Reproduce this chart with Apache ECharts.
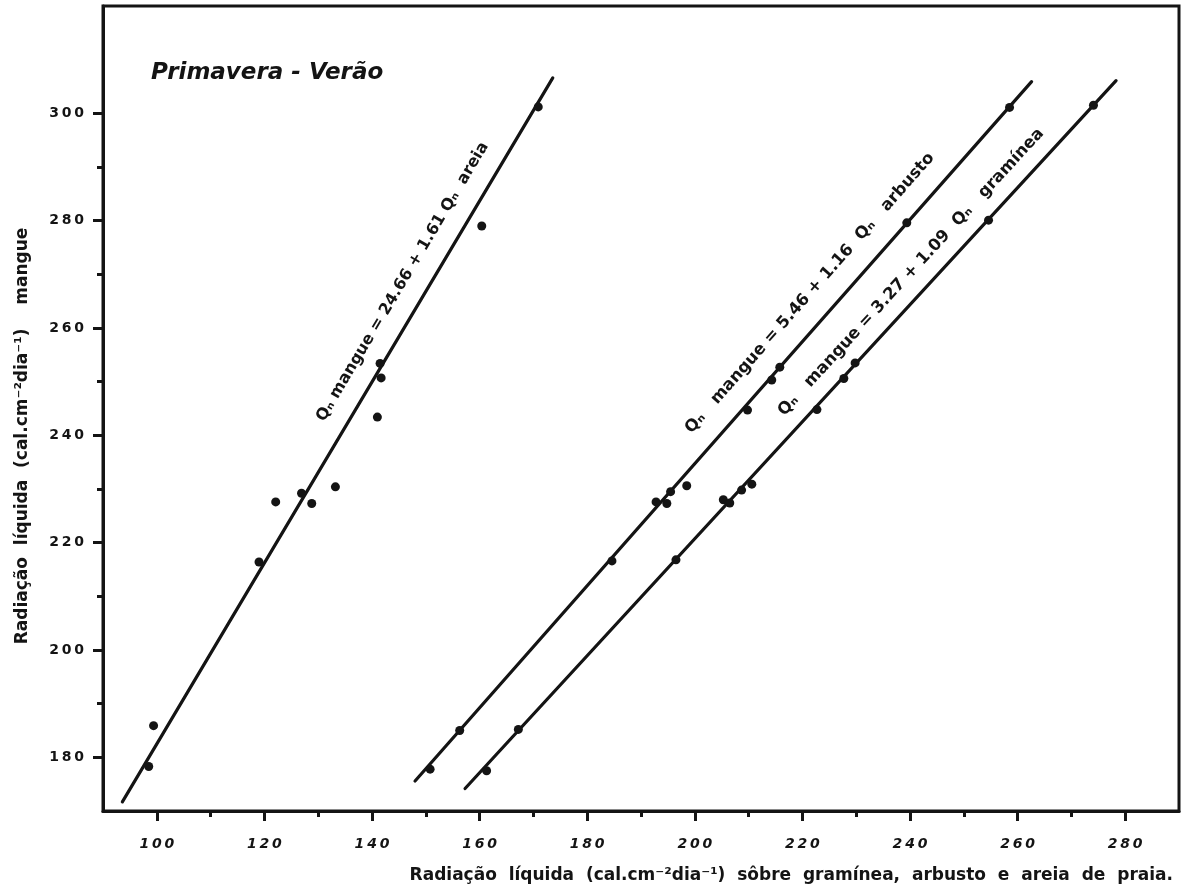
<!DOCTYPE html>
<html>
<head>
<meta charset="utf-8">
<script src="https://cdn.jsdelivr.net/npm/echarts@6/dist/echarts.min.js"></script>
<style>
  html, body { margin: 0; padding: 0; background: #fff; }
  #chart { width: 1194px; height: 892px; }
</style>
</head>
<body>
<div id="chart"></div>
<script>
// ---- Data ----
const xTickLabels = [100, 120, 140, 160, 180, 200, 220, 240, 260, 280];
const xMinorTicks = [110, 130, 150, 170, 190, 210, 230, 250, 270];
const yTickLabels = [180, 200, 220, 240, 260, 280, 300];
const yMinorTicks = [190, 210, 230, 250, 270, 290];

// Qn areia vs Qn mangue
const areiaX  = [98.5, 99.4, 119.0, 122.1, 126.9, 128.8, 133.2, 141.0, 141.7, 141.5, 160.4, 170.9];
const areiaY  = [178.3, 185.9, 216.4, 227.6, 229.2, 227.3, 230.4, 243.4, 250.7, 253.4, 279.0, 301.2];
// Qn arbusto vs Qn mangue
const arbustoX = [150.8, 156.3, 184.6, 192.8, 194.8, 195.5, 198.5, 209.8, 214.3, 215.8, 239.4, 258.5];
const arbustoY = [177.8, 185.0, 216.6, 227.6, 227.3, 229.5, 230.6, 244.7, 250.3, 252.7, 279.6, 301.1];
// Qn gramínea vs Qn mangue
const gramineaX = [161.3, 167.2, 196.5, 205.3, 206.5, 208.7, 210.6, 222.7, 227.7, 229.8, 254.6, 274.1];
const gramineaY = [177.5, 185.2, 216.8, 228.0, 227.4, 229.8, 230.9, 244.8, 250.6, 253.5, 280.1, 301.5];

// Fitted lines (end points as drawn)
const lineAreiaX = [93.6, 173.6];
const lineAreiaY = [171.7, 306.6];
const lineArbustoX = [148.0, 262.6];
const lineArbustoY = [175.6, 305.9];
const lineGramineaX = [157.3, 278.3];
const lineGramineaY = [174.2, 306.1];

const eqAreia = 'Qₙ mangue = 24.66 + 1.61 Qₙ  areia';
const eqArbusto = 'Qₙ   mangue = 5.46 + 1.16  Qₙ   arbusto';
const eqGraminea = 'Qₙ   mangue = 3.27 + 1.09  Qₙ   gramínea';
const titleText = 'Primavera - Verão';
const xTitle = 'Radiação  líquida  (cal.cm⁻²dia⁻¹)  sôbre  gramínea,  arbusto  e  areia  de  praia.';
const yTitle = 'Radiação  líquida  (cal.cm⁻²dia⁻¹)    mangue';

// ---- Chart ----
const INK = '#141414';
const FONT = '"DejaVu Sans", "Liberation Sans", sans-serif';
const zip = (xs, ys) => xs.map((x, i) => [x, ys[i]]);
const spaced = v => String(v).split('').join('\u2009');

const chart = echarts.init(document.getElementById('chart'), null, { renderer: 'canvas' });

const baseAxis = {
  type: 'value',
  splitLine: { show: false },
  axisLine: { show: false },
  axisTick: { show: false },
  axisLabel: { show: false }
};

const option = {
  animation: false,
  backgroundColor: '#fff',
  grid: {
    left: 103, right: 15, top: 6, bottom: 81,
    show: true, borderColor: INK, borderWidth: 3, backgroundColor: 'transparent'
  },
  xAxis: [
    Object.assign({}, baseAxis, {
      min: 90, max: 290, position: 'bottom',
      axisLine: { show: true, onZero: false, lineStyle: { color: INK, width: 3 } },
      axisTick: { show: true, inside: false, length: 10, customValues: xTickLabels, lineStyle: { color: INK, width: 3 } },
      axisLabel: {
        show: true, customValues: xTickLabels, margin: 26,
        formatter: spaced, color: INK,
        fontFamily: FONT, fontWeight: 'bold', fontStyle: 'italic', fontSize: 14
      }
    }),
    Object.assign({}, baseAxis, {
      min: 90, max: 290, position: 'bottom', offset: 0,
      axisTick: { show: true, inside: false, length: 6, customValues: xMinorTicks, lineStyle: { color: INK, width: 3 } }
    })
  ],
  yAxis: [
    Object.assign({}, baseAxis, {
      min: 170, max: 320, position: 'left',
      axisLine: { show: true, onZero: false, lineStyle: { color: INK, width: 3 } },
      axisTick: { show: true, inside: false, length: 10, customValues: yTickLabels, lineStyle: { color: INK, width: 3 } },
      axisLabel: {
        show: true, customValues: yTickLabels, margin: 19,
        formatter: spaced, color: INK,
        fontFamily: FONT, fontWeight: 'bold', fontSize: 14
      }
    }),
    Object.assign({}, baseAxis, {
      min: 170, max: 320, position: 'left', offset: 0,
      axisTick: { show: true, inside: false, length: 6, customValues: yMinorTicks, lineStyle: { color: INK, width: 3 } }
    })
  ],
  series: [
    { type: 'line', name: 'fit areia', data: zip(lineAreiaX, lineAreiaY), showSymbol: false, lineStyle: { color: INK, width: 3.2, cap: 'round' }, z: 2 },
    { type: 'line', name: 'fit arbusto', data: zip(lineArbustoX, lineArbustoY), showSymbol: false, lineStyle: { color: INK, width: 3.2, cap: 'round' }, z: 2 },
    { type: 'line', name: 'fit graminea', data: zip(lineGramineaX, lineGramineaY), showSymbol: false, lineStyle: { color: INK, width: 3.2, cap: 'round' }, z: 2 },
    { type: 'scatter', name: 'areia', data: zip(areiaX, areiaY), symbol: 'circle', symbolSize: 9, itemStyle: { color: INK, opacity: 1 }, z: 3 },
    { type: 'scatter', name: 'arbusto', data: zip(arbustoX, arbustoY), symbol: 'circle', symbolSize: 9, itemStyle: { color: INK, opacity: 1 }, z: 3 },
    { type: 'scatter', name: 'graminea', data: zip(gramineaX, gramineaY), symbol: 'circle', symbolSize: 9, itemStyle: { color: INK, opacity: 1 }, z: 3 }
  ]
};
chart.setOption(option);

// ---- Annotations placed through the chart's own scales ----
function px(p) { return chart.convertToPixel({ gridIndex: 0 }, p); }
function angleOf(xs, ys) {
  const a = px([xs[0], ys[0]]), b = px([xs[1], ys[1]]);
  return Math.atan2(a[1] - b[1], b[0] - a[0]);
}
function eqLabel(text, anchor, xs, ys, size) {
  const p = px(anchor);
  return {
    type: 'text', x: p[0], y: p[1], rotation: angleOf(xs, ys),
    style: { text: text, fill: INK, font: 'bold ' + size + 'px ' + FONT, align: 'center', verticalAlign: 'middle' },
    z: 10
  };
}
const gTop = px([90, 320]);
const gBot = px([290, 170]);

chart.setOption({
  graphic: [
    {
      type: 'text', x: gTop[0] + 48, y: gTop[1] + 67,
      style: { text: titleText, fill: INK, font: 'italic bold 23px ' + FONT, align: 'left', verticalAlign: 'middle' }
    },
    eqLabel(eqAreia, [145.7, 268.6], lineAreiaX, lineAreiaY, 16),
    eqLabel(eqArbusto, [221.4, 266.5], lineArbustoX, lineArbustoY, 16.5),
    eqLabel(eqGraminea, [240.2, 270.4], lineGramineaX, lineGramineaY, 16.5),
    {
      type: 'text', x: gBot[0] - 6, y: gBot[1] + 65,
      style: { text: xTitle, fill: INK, font: 'bold 17px ' + FONT, align: 'right', verticalAlign: 'middle' }
    },
    {
      type: 'text', x: 23, y: 436, rotation: Math.PI / 2,
      style: { text: yTitle, fill: INK, font: 'bold 17px ' + FONT, align: 'center', verticalAlign: 'middle' }
    }
  ]
});
</script>
</body>
</html>
